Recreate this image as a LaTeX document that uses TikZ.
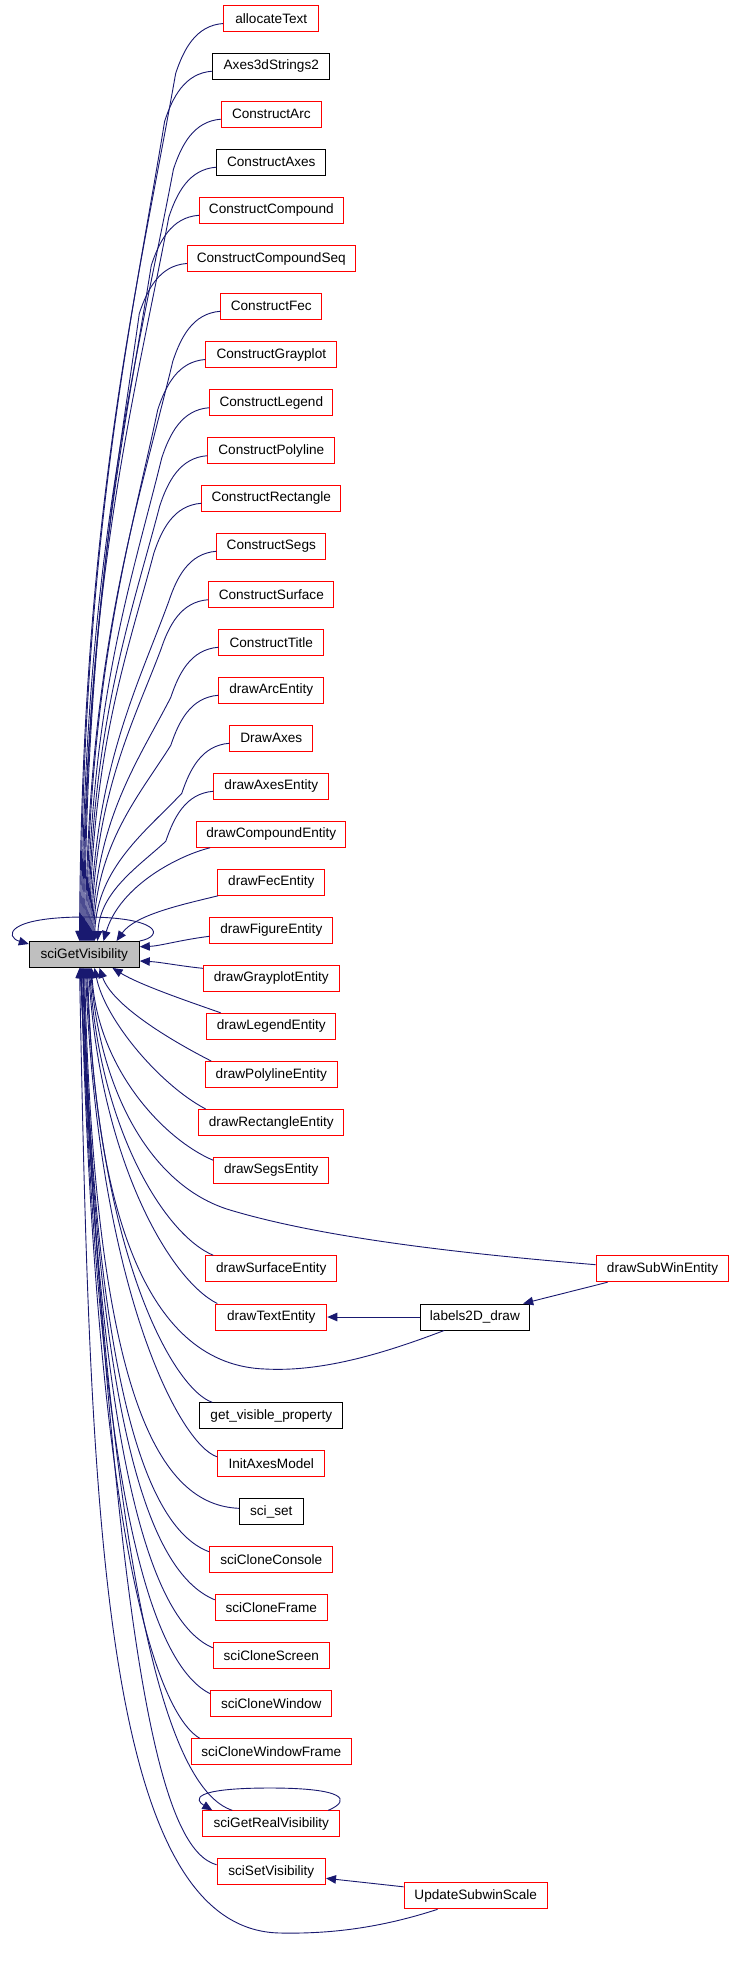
\documentclass[tikz,border=0pt]{standalone}
\usepackage{fontspec}
\setmainfont{Liberation Sans}
\usetikzlibrary{arrows.meta,calc}
\definecolor{edgeblue}{RGB}{25,25,112}
\definecolor{boxred}{RGB}{255,0,0}
\definecolor{sgvfill}{RGB}{191,191,191}
\begin{document}
\begin{tikzpicture}[x=1pt,y=-1pt,
  box/.style={draw, line width=1pt, minimum height=26pt, inner sep=0pt, font=\fontsize{13.6}{15}\selectfont},
  edge/.style={draw=edgeblue, line width=0.9pt, -{Triangle[length=10pt,width=8.5pt]}}]
\path[use as bounding box, fill=white] (0,0) rectangle (733,1962);

% caller nodes in the main column
\foreach \n/\t/\c/\yy/\ww in {
 n0/allocateText/boxred/18.5/95.3,
 n1/Axes3dStrings2/black/66.2/117.3,
 n2/ConstructArc/boxred/114.2/99.7,
 n3/ConstructAxes/black/162.2/109,
 n4/ConstructCompound/boxred/210.3/144,
 n5/ConstructCompoundSeq/boxred/258.5/168,
 n6/ConstructFec/boxred/306.3/101,
 n7/ConstructGrayplot/boxred/354.5/131,
 n8/ConstructLegend/boxred/402.7/123,
 n9/ConstructPolyline/boxred/450.7/127,
 n10/ConstructRectangle/boxred/498.3/139,
 n11/ConstructSegs/boxred/546.3/109,
 n12/ConstructSurface/boxred/594.7/125,
 n13/ConstructTitle/boxred/642.3/105,
 n14/drawArcEntity/boxred/690.3/105,
 n15/DrawAxes/boxred/738.3/83,
 n16/drawAxesEntity/boxred/786.3/115,
 n17/drawCompoundEntity/boxred/834.3/149,
 n18/drawFecEntity/boxred/882.3/107,
 n19/drawFigureEntity/boxred/930.3/123,
 n20/drawGrayplotEntity/boxred/978.3/136,
 n21/drawLegendEntity/boxred/1026.3/129,
 n22/drawPolylineEntity/boxred/1074.5/132,
 n23/drawRectangleEntity/boxred/1122.5/145,
 n24/drawSegsEntity/boxred/1170.3/115,
 n25/drawSurfaceEntity/boxred/1268.8/131,
 n26/drawTextEntity/boxred/1317/111,
 n27/get\_visible\_property/black/1415.8/143,
 n28/InitAxesModel/boxred/1463.8/107.3,
 n29/sci\_set/black/1511.8/64,
 n30/sciCloneConsole/boxred/1559.8/123,
 n31/sciCloneFrame/boxred/1607.8/112,
 n32/sciCloneScreen/boxred/1655.8/116,
 n33/sciCloneWindow/boxred/1703.8/121,
 n34/sciCloneWindowFrame/boxred/1751.8/160,
 n35/sciGetRealVisibility/boxred/1823.8/137,
 n36/sciSetVisibility/boxred/1871.8/108.4}
 {\node[box, draw=\c, minimum width=\ww pt] (\n) at (271.3,\yy) {\t};}

\node[box, draw=black, fill=sgvfill, minimum width=110pt] (sgv) at (84.3,954.5) {sciGetVisibility};
\node[box, draw=boxred, minimum width=132.7pt] (sw) at (662.5,1268.7) {drawSubWinEntity};
\node[box, draw=black, minimum width=108.6pt] (lb) at (474.9,1317) {labels2D\_draw};
\node[box, draw=boxred, minimum width=143.3pt] (us) at (475.7,1895.8) {UpdateSubwinScale};

% edges from the upper callers to the top of sciGetVisibility
\foreach \n/\yy/\ww/\xe in {
 n0/18.5/95.3/80, n1/66.2/117.3/81, n2/114.2/99.7/82, n3/162.2/109/83,
 n4/210.3/144/84, n5/258.5/168/85, n6/306.3/101/86, n7/354.5/131/87,
 n8/402.7/123/88, n9/450.7/127/89, n10/498.3/139/90, n11/546.3/109/91,
 n12/594.7/125/92, n13/642.3/105/93, n14/690.3/105/94, n15/738.3/83/95,
 n16/786.3/115/98}
{
  \pgfmathsetmacro\xw{271.3-\ww/2}
  \pgfmathsetmacro\ya{\yy+5}
  \pgfmathsetmacro\kx{\xw-48}
  \pgfmathsetmacro\ky{\ya+50}
  \pgfmathsetmacro\dd{941.5-\ky}
  \pgfmathsetmacro\cax{\kx-0.4*(\kx-\xe)}
  \pgfmathsetmacro\cay{\ky+0.25*\dd}
  \pgfmathsetmacro\cbx{\xe+2}
  \pgfmathsetmacro\cby{941.5-0.5*\dd}
  \draw[edge] ($(\n.west)+(0,5)$) .. controls (\xw-28,\ya+2) and (\kx+8,\ky-24) .. (\kx,\ky)
     .. controls (\cax,\cay) and (\cbx,\cby) .. ($(sgv.north west)+(\xe-29.3,0)$);
}

\draw[edge] ($(n17.south west)+(13.7,0)$) .. controls (180,855) and (120,885) .. ($(sgv.north west)+(74.7,0)$);
\draw[edge] ($(n18.south west)+(0.7,0)$) .. controls (180,905) and (135,915) .. ($(sgv.north west)+(87.7,0)$);
\draw[edge] ($(n19.west)+(0,6)$) .. controls (180,940) and (160,946) .. ($(sgv.east)+(0,-7.8)$);
\draw[edge] ($(n20.west)+(0,-10)$) .. controls (180,966) and (160,962) .. ($(sgv.east)+(0,6.5)$);

% self loop
\draw[edge] (sgv.north east) .. controls (165,936) and (160,917) .. (85,917)
   .. controls (5,917) and (5,937) .. ($(sgv.north west)+(0,3)$);

% edges from the lower callers to the bottom of sciGetVisibility
\draw[edge] ($(n21.north west)+(14.4,0)$) .. controls (190,1002) and (140,985) .. ($(sgv.south west)+(83.7,0)$);
\draw[edge] ($(n22.north west)+(6.4,0)$) .. controls (170,1040) and (112,1005) .. ($(sgv.south west)+(70.7,0)$);
\draw[edge] ($(n23.north west)+(7.4,0)$) .. controls (160,1085) and (105,1020) .. ($(sgv.south west)+(65.7,0)$);
\draw[edge] ($(n24.west)+(0,-10)$) .. controls (165,1140) and (98,1070) .. ($(sgv.south west)+(62.7,0)$);
\draw[edge] ($(sw.west)+(0,-4)$) .. controls (480,1255) and (330,1240) .. (230,1210)
   .. controls (150,1186) and (100,1090) .. ($(sgv.south west)+(61.7,0)$);
\draw[edge] ($(n25.north west)+(8,0)$) .. controls (165,1235) and (100,1130) .. ($(sgv.south west)+(60.7,0)$);
\draw[edge] ($(n26.north west)+(2,0)$) .. controls (170,1280) and (100,1160) .. ($(sgv.south west)+(59.7,0)$);
\draw[edge] ($(lb.south west)+(24,0)$) .. controls (380,1355) and (320,1372) .. (265,1369)
   .. controls (150,1365) and (95,1220) .. ($(sgv.south west)+(58.7,0)$);
\draw[edge] ($(n27.north west)+(13,0)$) .. controls (175,1390) and (98,1260) .. ($(sgv.south west)+(57.7,0)$);
\draw[edge] ($(n28.west)+(0,-7)$) .. controls (180,1445) and (98,1290) .. ($(sgv.south west)+(56.7,0)$);
\draw[edge] ($(n29.west)+(0,-3.5)$) .. controls (160,1505) and (95,1400) .. ($(sgv.south west)+(55.7,0)$);
\draw[edge] ($(n30.west)+(0,-8)$) .. controls (150,1530) and (95,1400) .. ($(sgv.south west)+(54.7,0)$);
\draw[edge] ($(n31.west)+(0,-8)$) .. controls (155,1575) and (97,1450) .. ($(sgv.south west)+(54.2,0)$);
\draw[edge] ($(n32.west)+(0,-8)$) .. controls (160,1625) and (98,1500) .. ($(sgv.south west)+(53.7,0)$);
\draw[edge] ($(n33.west)+(0,-10)$) .. controls (163,1670) and (98,1550) .. ($(sgv.south west)+(52.7,0)$);
\draw[edge] ($(n34.north west)+(9,0)$) .. controls (168,1720) and (98,1600) .. ($(sgv.south west)+(52.2,0)$);
\draw[edge] ($(n35.north west)+(30,0)$) .. controls (170,1790) and (108,1600) .. ($(sgv.south west)+(51.7,0)$);
\draw[edge] ($(n36.west)+(0,-7)$) .. controls (165,1850) and (118,1700) .. ($(sgv.south west)+(51.2,0)$);
\draw[edge] ($(us.south west)+(34,0)$) .. controls (380,1928) and (330,1934) .. (280,1933)
   .. controls (100,1930) and (90,1500) .. ($(sgv.south west)+(50.7,0)$);

% other edges
\draw[edge] (lb.west) -- (n26.east);
\draw[edge] ($(sw.south west)+(12,0)$) -- ($(lb.north east)+(-6.5,0)$);
\draw[edge] ($(us.west)+(0,-9)$) -- ($(n36.east)+(0,6.5)$);
\draw[edge] ($(n35.north east)+(-12,0)$) .. controls (352,1800) and (345,1788) .. (270,1788)
   .. controls (190,1788) and (195,1800) .. ($(n35.north west)+(10,0)$);
\end{tikzpicture}
\end{document}
